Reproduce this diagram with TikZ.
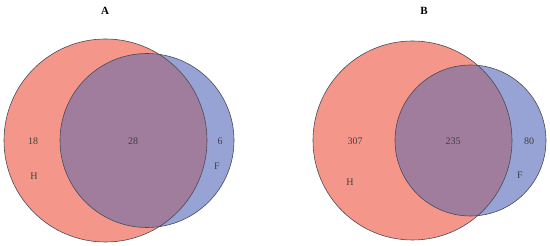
\documentclass[tikz,border=0pt]{standalone}
\usepackage{fontspec}
\setmainfont{Liberation Serif}
\definecolor{hred}{HTML}{F5968A}
\definecolor{fblue}{HTML}{97A3D5}
\definecolor{both}{HTML}{A07D9D}
\definecolor{edge}{HTML}{4A4A55}
\begin{document}
\begin{tikzpicture}[x=1pt,y=-1pt,
  lbl/.style={font=\fontsize{10}{12}\selectfont,text=black!75},
  ttl/.style={font=\fontsize{11}{13}\selectfont\bfseries},
  ring/.style={draw=edge,line width=0.6pt}]
\useasboundingbox (0,0) rectangle (550,246);
% Panel A
\fill[hred] (105.5,140.5) circle (101.5);
\fill[fblue] (147,140.5) circle (87);
\begin{scope}
  \clip (105.5,140.5) circle (101.5);
  \fill[both] (147,140.5) circle (87);
\end{scope}
\draw[ring] (105.5,140.5) circle (101.5);
\draw[ring] (147,140.5) circle (87);
\node[ttl] (tA) at (105,11) {A};
\node[lbl] (a1) at (33,141) {18};
\node[lbl] (a2) at (133,141) {28};
\node[lbl] (a3) at (220,141) {6};
\node[lbl] (aH) at (34,176) {H};
\node[lbl] (aF) at (217,166) {F};
% Panel B
\fill[hred] (412.5,140.5) circle (99.5);
\fill[fblue] (470.5,140.5) circle (75.5);
\begin{scope}
  \clip (412.5,140.5) circle (99.5);
  \fill[both] (470.5,140.5) circle (75.5);
\end{scope}
\draw[ring] (412.5,140.5) circle (99.5);
\draw[ring] (470.5,140.5) circle (75.5);
\node[ttl] (tB) at (424,11) {B};
\node[lbl] (b1) at (355,141) {307};
\node[lbl] (b2) at (453,141) {235};
\node[lbl] (b3) at (529,141) {80};
\node[lbl] (bH) at (350,182) {H};
\node[lbl] (bF) at (520,175) {F};
\end{tikzpicture}
\end{document}
